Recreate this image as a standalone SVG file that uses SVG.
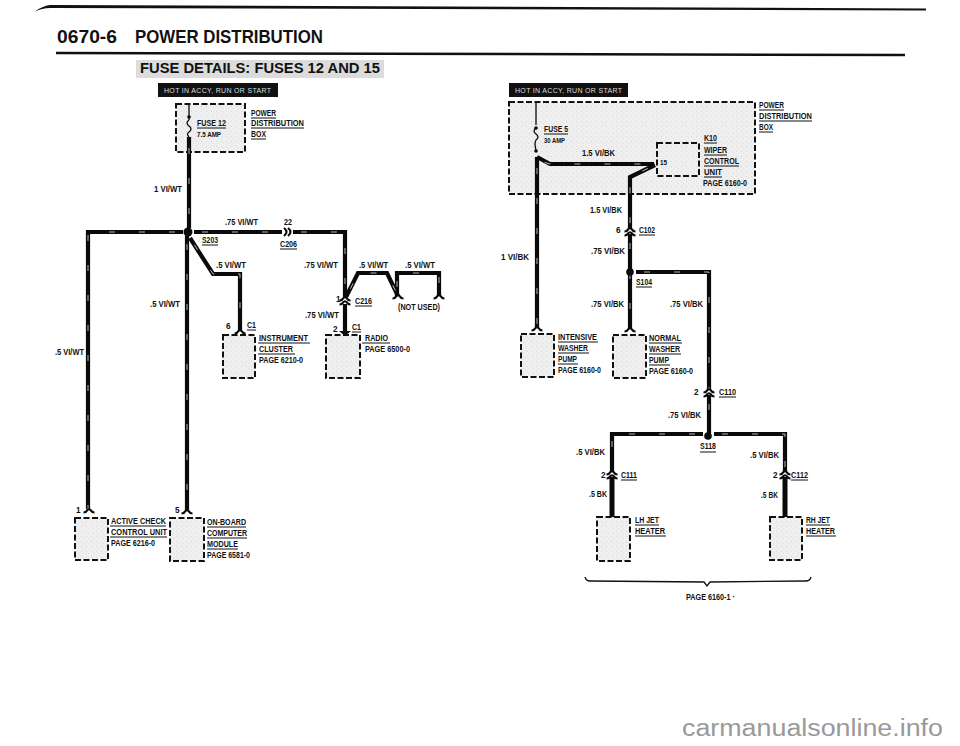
<svg xmlns="http://www.w3.org/2000/svg" width="960" height="746" viewBox="0 0 960 746">
<style>
text{font-family:"Liberation Sans",Arial,sans-serif;font-weight:bold;fill:#111;font-size:8.200px}
.box{fill:url(#st);stroke:#111;stroke-width:2;stroke-dasharray:6 2.500}
.u{stroke:#111;stroke-width:1;fill:none}
.w{fill:none;stroke:#0a0a0a;stroke-width:4.200;stroke-linejoin:miter}
.t{fill:none;stroke:#0a0a0a;stroke-width:1.300}
.h{fill:none;stroke:#fff;stroke-width:.7;stroke-dasharray:6 24;stroke-dashoffset:-8}
.c{fill:none;stroke:#0a0a0a;stroke-width:2.200}
.d{fill:#0a0a0a}
</style>
<defs>
<pattern id="st" width="5" height="5" patternUnits="userSpaceOnUse">
<rect width="5" height="5" fill="#efefef"/><rect x="1" y="1" width="1" height="1" fill="#d8d8d8"/><rect x="3" y="3" width="1" height="1" fill="#e0e0e0"/>
</pattern>
<path id="capD" d="M-5.500 2.500Q-3 2.500-2 .5Q0-2 2 .5Q3 2.500 5.500 2.500" class="c"/>
</defs>
<rect width="960" height="746" fill="#fff"/>
<g id="page-header">
<path d="M35 11.500Q42 6 50 5L926 8.500V10.500L50 8Q42 8 35 11.500Z" fill="#111"/>
<text x="57" y="43" style="font-size:17.500px" textLength="60" lengthAdjust="spacingAndGlyphs">0670-6</text>
<text x="135" y="43" style="font-size:17.500px" textLength="188" lengthAdjust="spacingAndGlyphs">POWER DISTRIBUTION</text>
<path d="M56 53L905 55" stroke="#111" stroke-width="2.500"/>
<rect x="136" y="60" width="248" height="18" fill="#dcdcdc"/>
<text x="140" y="73" style="font-size:14px" textLength="240" lengthAdjust="spacingAndGlyphs">FUSE DETAILS: FUSES 12 AND 15</text>
</g>
<g id="banner-left"><rect x="158" y="83" width="120" height="14" fill="#111"/><text x="164" y="93" style="fill:#ddd;font-weight:normal;font-size:7px" textLength="107">HOT IN ACCY, RUN OR START</text></g>
<g id="banner-right"><rect x="509" y="83" width="119" height="14" fill="#111"/><text x="515" y="93" style="fill:#ddd;font-weight:normal;font-size:7px" textLength="107">HOT IN ACCY, RUN OR START</text></g>

<g id="fuse-12-box"><rect class="box" x="176" y="104" width="69" height="48"/>
<text x="251" y="116" textLength="25" lengthAdjust="spacingAndGlyphs">POWER</text><text x="251" y="126" textLength="53" lengthAdjust="spacingAndGlyphs">DISTRIBUTION</text><text x="251" y="137" textLength="15" lengthAdjust="spacingAndGlyphs">BOX</text>
<text x="197" y="126" textLength="29" lengthAdjust="spacingAndGlyphs">FUSE 12</text><text x="197" y="137" style="font-size:7px" textLength="24" lengthAdjust="spacingAndGlyphs">7.5 AMP</text>
<path class="u" d="M251 118H276M251 128H304M251 139H266M197 128H226"/></g>

<g id="power-box-right"><rect class="box" x="509" y="102" width="246" height="92"/>
<text x="759" y="108" textLength="25" lengthAdjust="spacingAndGlyphs">POWER</text><text x="759" y="119" textLength="53" lengthAdjust="spacingAndGlyphs">DISTRIBUTION</text><text x="759" y="130" textLength="14" lengthAdjust="spacingAndGlyphs">BOX</text>
<text x="544" y="132" textLength="24" lengthAdjust="spacingAndGlyphs">FUSE 5</text><text x="544" y="143" style="font-size:7px" textLength="21" lengthAdjust="spacingAndGlyphs">30 AMP</text>
<path class="u" d="M759 110H784M759 121H812M759 132H773M544 134H568"/></g>

<g id="k10-wiper-control-unit"><rect class="box" x="657" y="143" width="42" height="33"/>
<text x="704" y="141" textLength="13" lengthAdjust="spacingAndGlyphs">K10</text><text x="704" y="153" textLength="23" lengthAdjust="spacingAndGlyphs">WIPER</text><text x="704" y="164" textLength="35" lengthAdjust="spacingAndGlyphs">CONTROL</text><text x="704" y="175" textLength="18" lengthAdjust="spacingAndGlyphs">UNIT</text><text x="703" y="186" textLength="44" lengthAdjust="spacingAndGlyphs">PAGE 6160-0</text><text x="660" y="165" style="font-size:7px" textLength="7" lengthAdjust="spacingAndGlyphs">15</text>
<path class="u" d="M704 143H717M704 155H727M704 166H739M704 177H722"/></g>

<g id="instrument-cluster"><rect class="box" x="223" y="335" width="32" height="43"/>
<text x="259" y="341" textLength="49" lengthAdjust="spacingAndGlyphs">INSTRUMENT</text><text x="259" y="352" textLength="34" lengthAdjust="spacingAndGlyphs">CLUSTER</text><text x="259" y="363" textLength="44" lengthAdjust="spacingAndGlyphs">PAGE 6210-0</text><text x="226" y="329">6</text><text x="247" y="328" textLength="9" lengthAdjust="spacingAndGlyphs">C1</text>
<path class="u" d="M258 343H310M258 354H295M247 330H256"/></g>
<g id="radio"><rect class="box" x="326" y="335" width="34" height="43"/>
<text x="365" y="341" textLength="23" lengthAdjust="spacingAndGlyphs">RADIO</text><text x="365" y="352" textLength="45" lengthAdjust="spacingAndGlyphs">PAGE 6500-0</text><text x="333" y="332">2</text><text x="352" y="330" textLength="9" lengthAdjust="spacingAndGlyphs">C1</text>
<path class="u" d="M362 343H390M352 332H361"/></g>
<g id="active-check"><rect class="box" x="75" y="518" width="33" height="42"/>
<text x="111" y="524" textLength="55" lengthAdjust="spacingAndGlyphs">ACTIVE CHECK</text><text x="111" y="535" textLength="56" lengthAdjust="spacingAndGlyphs">CONTROL UNIT</text><text x="111" y="546" textLength="44" lengthAdjust="spacingAndGlyphs">PAGE 6216-0</text><text x="76" y="513">1</text>
<path class="u" d="M110 526H166M110 537H167"/></g>
<g id="on-board-computer"><rect class="box" x="170" y="518" width="34" height="43"/>
<text x="207" y="525" textLength="39" lengthAdjust="spacingAndGlyphs">ON-BOARD</text><text x="207" y="536" textLength="40" lengthAdjust="spacingAndGlyphs">COMPUTER</text><text x="207" y="547" textLength="31" lengthAdjust="spacingAndGlyphs">MODULE</text><text x="207" y="558" textLength="43" lengthAdjust="spacingAndGlyphs">PAGE 6581-0</text><text x="175" y="513">5</text>
<path class="u" d="M207 527H246M207 538H247M207 549H238"/></g>
<g id="intensive-washer"><rect class="box" x="521" y="334" width="33" height="43"/>
<text x="558" y="340" textLength="39" lengthAdjust="spacingAndGlyphs">INTENSIVE</text><text x="558" y="351" textLength="30" lengthAdjust="spacingAndGlyphs">WASHER</text><text x="558" y="362" textLength="19" lengthAdjust="spacingAndGlyphs">PUMP</text><text x="558" y="373" textLength="43" lengthAdjust="spacingAndGlyphs">PAGE 6160-0</text>
<path class="u" d="M558 342H598M558 353H589M558 364H578"/></g>
<g id="normal-washer"><rect class="box" x="613" y="335" width="33" height="43"/>
<text x="649" y="341" textLength="32" lengthAdjust="spacingAndGlyphs">NORMAL</text><text x="649" y="352" textLength="31" lengthAdjust="spacingAndGlyphs">WASHER</text><text x="649" y="363" textLength="20" lengthAdjust="spacingAndGlyphs">PUMP</text><text x="649" y="374" textLength="44" lengthAdjust="spacingAndGlyphs">PAGE 6160-0</text>
<path class="u" d="M649 343H682M649 354H681M649 365H670"/></g>
<g id="lh-jet-heater"><rect class="box" x="597" y="517" width="33" height="44"/>
<text x="635" y="523" textLength="24" lengthAdjust="spacingAndGlyphs">LH JET</text><text x="635" y="534" textLength="30" lengthAdjust="spacingAndGlyphs">HEATER</text><path class="u" d="M635 525H659M635 536H666"/></g>
<g id="rh-jet-heater"><rect class="box" x="770" y="517" width="32" height="43"/>
<text x="806" y="523" textLength="24" lengthAdjust="spacingAndGlyphs">RH JET</text><text x="806" y="534" textLength="29" lengthAdjust="spacingAndGlyphs">HEATER</text><path class="u" d="M806 525H830M806 536H836"/></g>

<g id="connectors">
<path class="t" d="M189 105V120M536 102V125"/>
<path class="t" d="M189 120Q185 123 189 126Q193 129 189 132Q186 134 189 137M536 128Q532 131 536 134Q540 137 536 140Q534 143 536 150"/>
<circle class="d" cx="189" cy="117" r="1.800"/><circle class="d" cx="536" cy="128" r="1.800"/><circle class="d" cx="536" cy="151" r="1.800"/>
<g class="w">
<path d="M189 137V228"/>
<path d="M183 232H88V509"/>
<path d="M187 236V510"/>
<path d="M194 232H282M293 232H345V297"/>
<path d="M190 238L213 274H240V330"/>
<path d="M346 297L358 273H387L398 296"/>
<path d="M397 296V273H439V296"/>
<path d="M345 304V331"/>
<path d="M537 157V327"/>
<path d="M537 157L550 164H654"/>
<path d="M655 165L630 177V229"/>
<path d="M630 234V328"/>
<path d="M636 272H709V390"/>
<path d="M709 395V433"/>
<path d="M703 434H612V472"/>
<path d="M714 434H785V472"/>
<path d="M612 477V517" stroke-width="5"/>
<path d="M785 477V517" stroke-width="5"/>
</g>
<g class="h">
<path d="M189 140V228"/><path d="M183 232H88V509"/><path d="M187 236V510"/><path d="M194 232H282M293 232H345V296"/><path d="M190 238L213 274H240V330"/><path d="M347 296L358 273H387L398 296"/><path d="M397 295V273H439V296"/><path d="M537 160V327"/><path d="M537 160L550 164H654"/><path d="M655 165L630 177V228"/><path d="M630 235V328"/><path d="M636 272H709V389"/><path d="M709 396V433"/><path d="M703 434H612V470"/><path d="M714 434H785V470"/>
</g>
<circle class="d" cx="188" cy="232" r="4.500"/><circle class="d" cx="630" cy="272" r="3.800"/><circle class="d" cx="708" cy="436" r="3.800"/>
<use href="#capD" x="89" y="510"/><use href="#capD" x="187" y="511"/><use href="#capD" x="240" y="331"/><use href="#capD" x="537" y="328"/><use href="#capD" x="630" y="329"/>
<use href="#capD" x="398" y="296"/><use href="#capD" x="439" y="296"/>
<path class="d" d="M339 331H351L345 336Z"/>
<use href="#capD" x="345" y="298"/><use href="#capD" x="345" y="302"/>
<use href="#capD" x="630" y="229"/><use href="#capD" x="630" y="233"/>
<use href="#capD" x="709" y="390"/><use href="#capD" x="709" y="394"/>
<use href="#capD" x="612" y="472"/><use href="#capD" x="612" y="476"/>
<use href="#capD" x="785" y="472"/><use href="#capD" x="785" y="476"/>
<path class="c" d="M284 228Q289 232 284 236M288 228Q293 232 288 236"/>
<path d="M585 577Q586 581 590 581L704 582L707 586L710 582L806 581Q810 581 811 577" fill="none" stroke="#111" stroke-width="1.300"/>
</g>
<g id="wire-labels">
<text x="154" y="192" textLength="28" lengthAdjust="spacingAndGlyphs">1 VI/WT</text>
<text x="225" y="225" textLength="33" lengthAdjust="spacingAndGlyphs">.75 VI/WT</text><text x="284" y="225" textLength="8" lengthAdjust="spacingAndGlyphs">22</text>
<text x="202" y="243" textLength="16" lengthAdjust="spacingAndGlyphs">S203</text><text x="280" y="247" textLength="17" lengthAdjust="spacingAndGlyphs">C206</text>
<text x="216" y="268" textLength="30" lengthAdjust="spacingAndGlyphs">.5 VI/WT</text><text x="304" y="268" textLength="34" lengthAdjust="spacingAndGlyphs">.75 VI/WT</text><text x="359" y="268" textLength="29" lengthAdjust="spacingAndGlyphs">.5 VI/WT</text><text x="405" y="268" textLength="30" lengthAdjust="spacingAndGlyphs">.5 VI/WT</text>
<text x="150" y="307" textLength="30" lengthAdjust="spacingAndGlyphs">.5 VI/WT</text><text x="305" y="318" textLength="34" lengthAdjust="spacingAndGlyphs">.75 VI/WT</text><text x="336" y="302">1</text><text x="355" y="304" textLength="17" lengthAdjust="spacingAndGlyphs">C216</text><text x="398" y="310" textLength="42" lengthAdjust="spacingAndGlyphs">(NOT USED)</text>
<text x="55" y="355" textLength="29" lengthAdjust="spacingAndGlyphs">.5 VI/WT</text>
<path class="u" d="M202 245H218M280 249H297M355 306H372"/>
<text x="582" y="156" textLength="33" lengthAdjust="spacingAndGlyphs">1.5 VI/BK</text><text x="590" y="213" textLength="32" lengthAdjust="spacingAndGlyphs">1.5 VI/BK</text>
<text x="616" y="233">6</text><text x="639" y="233" textLength="16" lengthAdjust="spacingAndGlyphs">C102</text>
<text x="591" y="254" textLength="34" lengthAdjust="spacingAndGlyphs">.75 VI/BK</text><text x="501" y="260" textLength="28" lengthAdjust="spacingAndGlyphs">1 VI/BK</text>
<text x="636" y="285" textLength="16" lengthAdjust="spacingAndGlyphs">S104</text>
<text x="591" y="307" textLength="33" lengthAdjust="spacingAndGlyphs">.75 VI/BK</text><text x="670" y="307" textLength="33" lengthAdjust="spacingAndGlyphs">.75 VI/BK</text>
<text x="694" y="395">2</text><text x="719" y="395" textLength="17" lengthAdjust="spacingAndGlyphs">C110</text>
<text x="668" y="418" textLength="33" lengthAdjust="spacingAndGlyphs">.75 VI/BK</text>
<text x="700" y="449" textLength="16" lengthAdjust="spacingAndGlyphs">S118</text>
<text x="576" y="455" textLength="29" lengthAdjust="spacingAndGlyphs">.5 VI/BK</text><text x="750" y="458" textLength="29" lengthAdjust="spacingAndGlyphs">.5 VI/BK</text>
<text x="601" y="478">2</text><text x="621" y="478" textLength="16" lengthAdjust="spacingAndGlyphs">C111</text><text x="773" y="478">2</text><text x="791" y="478" textLength="17" lengthAdjust="spacingAndGlyphs">C112</text>
<text x="589" y="497" textLength="18" lengthAdjust="spacingAndGlyphs">.5 BK</text><text x="761" y="498" textLength="17" lengthAdjust="spacingAndGlyphs">.5 BK</text>
<text x="686" y="600" textLength="49" lengthAdjust="spacingAndGlyphs">PAGE 6160-1 ·</text>
<path class="u" d="M639 235H655M636 287H652M719 397H736M700 452H716M621 480H637M791 480H808"/>
</g>
<g id="watermark"><text x="682" y="736" style="font-size:23px;font-weight:normal;fill:#999" textLength="261" lengthAdjust="spacingAndGlyphs">carmanualsonline.info</text></g>
</svg>
